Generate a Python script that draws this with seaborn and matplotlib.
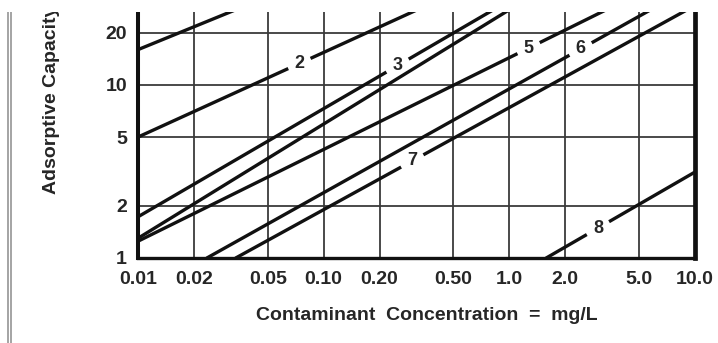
"""
Freundlich-type isotherms on log-log paper (adsorptive capacity vs. concentration)
"""
import numpy as np
import pandas as pd
import matplotlib
matplotlib.use('Agg')
import matplotlib.pyplot as plt
from matplotlib.lines import Line2D
from matplotlib.patches import Rectangle
import seaborn as sns

# ─── data: start / end point of each straight isotherm ───
line_ids = ['1', '2', '3', '4', '5', '6', '7', '8']
x_start  = [0.01, 0.01, 0.01, 0.01, 0.01, 0.0235, 0.0336, 1.58]
y_start  = [16.0, 5.0, 1.73, 1.30, 1.25, 1.0, 1.0, 1.0]
x_end    = [0.042, 0.39, 0.96, 1.16, 4.0, 6.8, 10.0, 10.0]
y_end    = [30.0, 30.0, 30.0, 30.0, 30.0, 30.0, 28.8, 3.14]

# inline numbers sitting in gaps of the lines
label_ids = ['2', '3', '5', '6', '7', '8']
label_x   = [0.074, 0.25, 1.27, 2.42, 0.30, 3.0]

x_ticks  = [0.01, 0.02, 0.05, 0.1, 0.2, 0.5, 1.0, 2.0, 5.0, 10.0]
x_labels = ['0.01', '0.02', '0.05', '0.10', '0.20', '0.50', '1.0', '2.0', '5.0', '10.0']
y_ticks  = [1, 2, 5, 10, 20]
y_labels = ['1', '2', '5', '10', '20']

rows = []
for lid, x0, y0, x1, y1 in zip(line_ids, x_start, y_start, x_end, y_end):
    rows.append({'line': lid, 'conc': x0, 'cap': y0})
    rows.append({'line': lid, 'conc': x1, 'cap': y1})
df = pd.DataFrame(rows)

# ─── figure ───
sns.set_theme(style='white')
plt.rcParams['font.family'] = ['Liberation Sans', 'DejaVu Sans']
INK = '#262626'

W, H = 718, 343
fig = plt.figure(figsize=(W / 100, H / 100), dpi=100)
ax = fig.add_axes([138 / W, 1 - 258 / H, (695 - 138) / W, (258 - 12) / H])

sns.lineplot(data=df, x='conc', y='cap', units='line', estimator=None,
             sort=False, color='#111111', lw=2.4, ax=ax, legend=False)

ax.set_xscale('log')
ax.set_yscale('log')
ax.set_xlim(0.01, 10)
ax.set_ylim(1, 26.4)

ax.xaxis.set_major_locator(plt.FixedLocator(x_ticks))
ax.yaxis.set_major_locator(plt.FixedLocator(y_ticks))
ax.xaxis.set_minor_locator(plt.NullLocator())
ax.yaxis.set_minor_locator(plt.NullLocator())
ax.set_xticklabels(x_labels)
ax.set_yticklabels(y_labels)
ax.tick_params(axis='both', length=0, labelsize=14, labelcolor=INK)
ax.tick_params(axis='x', pad=9)
ax.tick_params(axis='y', pad=8)
for t in ax.get_xticklabels() + ax.get_yticklabels():
    t.set_fontweight('bold')

ax.grid(True, which='major', color='#3a3a3a', lw=1.3)
ax.set_axisbelow(True)
ax.set_xlabel('')
ax.set_ylabel('')

ax.spines['top'].set_visible(False)
for side, lw in [('left', 2.9), ('bottom', 2.4), ('right', 3.4)]:
    ax.spines[side].set_color('#111111')
    ax.spines[side].set_linewidth(lw)

# numbers on the lines: a short white stroke along the line opens the gap
GAP = 0.06   # half-width of the gap, in decades of x
for lid, lx in zip(label_ids, label_x):
    i = line_ids.index(lid)
    lx0, lx1 = np.log10(x_start[i]), np.log10(x_end[i])
    ly0, ly1 = np.log10(y_start[i]), np.log10(y_end[i])
    slope = (ly1 - ly0) / (lx1 - lx0)
    gx = np.array([np.log10(lx) - GAP, np.log10(lx) + GAP])
    gy = ly0 + slope * (gx - lx0)
    ax.plot(10 ** gx, 10 ** gy, color='white', lw=4.5,
            solid_capstyle='butt', zorder=4)
    ly = 10 ** (ly0 + slope * (np.log10(lx) - lx0))
    ax.text(lx, ly, lid, ha='center', va='center', fontsize=13,
            fontweight='bold', color=INK, zorder=5)

fig.text(427 / W, 1 - 315 / H, 'Contaminant  Concentration  =  mg/L',
         ha='center', va='center', fontsize=14, fontweight='bold', color=INK)
fig.text(52 / W, 1 - 100 / H, 'Adsorptive Capacity', rotation=90,
         ha='center', va='center', fontsize=14, fontweight='bold', color=INK)

# scanned page: cut-off top band and double margin rule on the left
fig.add_artist(Rectangle((0, 1 - 12 / H), 1, 12 / H, transform=fig.transFigure,
                         fc='white', ec='none', zorder=10))
for px in (8, 11):
    fig.add_artist(Line2D([px / W, px / W], [0, 1 - 12 / H], color='#8c8c8c', lw=1.1))

fig.savefig('out.png', dpi=100)
